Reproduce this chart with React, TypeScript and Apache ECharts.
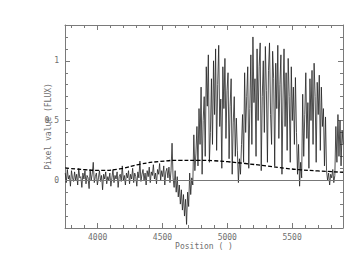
import React, { useEffect, useRef } from "react";
import * as echarts from "echarts";

// Spectrum sampling grid (start position and step of the pixel grid)
const positionStart = 3750;
const positionStep = 8;

// Flux values, one per pixel of the grid
const fluxValues = [
  0.06, -0.02, 0.09, 0.01, 0.04, -0.05, 0.08, 0.02, -0.01, 0.07,
  0.0, 0.05, -0.04, 0.1, 0.02, 0.03, -0.06, 0.06, 0.01, 0.08,
  -0.03, 0.04, 0.02, -0.07, 0.09, 0.0, 0.05, 0.15, -0.02, 0.03,
  0.06, -0.04, 0.02, 0.08, -0.01, 0.04, -0.08, 0.05, 0.01, 0.07,
  -0.03, 0.03, 0.0, 0.06, -0.05, 0.02, 0.09, -0.02, 0.04, 0.01,
  0.07, -0.06, 0.03, 0.05, -0.01, 0.12, 0.0, 0.04, -0.04, 0.06,
  0.02, 0.08, -0.03, 0.05, 0.01, 0.1, -0.02, 0.06, 0.03, -0.05,
  0.07, 0.02, 0.16, -0.01, 0.05, 0.09, 0.0, 0.06, -0.04, 0.08,
  0.03, 0.11, -0.02, 0.07, 0.04, 0.13, 0.01, 0.06, -0.03, 0.09,
  0.05, 0.14, 0.0, 0.08, 0.03, 0.12, -0.04, 0.07, 0.1, 0.02,
  0.11, -0.02, 0.08,
  0.31, 0.02, -0.06, 0.08, -0.1, 0.03, -0.14, -0.04, -0.2, -0.08,
  -0.25, -0.12, -0.3, -0.16, -0.37, -0.1, -0.22, 0.06, -0.12, 0.02,
  -0.04,
  0.38, 0.08, 0.22, 0.45, 0.12, 0.6, 0.3, 0.78, 0.05, 0.5,
  0.7, 0.2, 0.95, 0.62, 1.05, 0.15, 0.4, 0.85, 0.3, 1.0,
  0.55, 1.1, 0.25, 0.8, 1.13, 0.45, 0.68, 0.1, 0.95, 0.6,
  1.02, 0.35, 0.75, 0.9, 0.18, 0.62, 0.85, 0.05, 0.48, 0.7,
  0.2, 0.52,
  0.25, -0.02, 0.18, 0.05, 0.3,
  0.55, 0.15, 0.9, 0.4, 0.7, 0.95, 0.1, 0.6, 1.05, 0.3,
  1.2, 0.65, 0.85, 0.2, 1.1, 0.5, 0.95, 1.15, 0.08, 0.7,
  1.0, 0.4, 1.12, 0.75, 0.15, 0.92, 1.15, 0.55, 0.3, 1.08,
  0.85, 0.12, 0.98, 0.6, 1.13, 0.35, 0.8, 1.05, 0.05, 0.68,
  1.1, 0.45, 0.9, 0.25, 1.02, 0.7, 0.15, 0.95, 0.5, 0.78,
  0.3, 0.86, 0.4,
  0.05, 0.3, -0.05, 0.15, 0.02,
  0.72, 0.2, 0.55, 0.9, 0.35, 0.65, 0.1, 0.85, 0.5, 0.92,
  0.3, 0.98, 0.7, 0.15, 0.82, 0.55, 0.88, 0.25, 0.78, 0.45,
  0.6, 0.12, 0.53,
  0.08, 0.0, 0.06, -0.04, 0.05, 0.02, 0.09, -0.02, 0.04,
  0.45, 0.15, 0.55, 0.2, 0.5, 0.12, 0.42, 0.3,
];

// Continuum fit (dashed curve)
const continuumPositions = [
  3750, 3900, 4020, 4170, 4330, 4480, 4640, 4770, 4900, 5000, 5140, 5300,
  5450, 5560, 5700, 5893,
];
const continuumValues = [
  0.103, 0.088, 0.083, 0.095, 0.135, 0.157, 0.167, 0.167, 0.163, 0.155, 0.14,
  0.12, 0.1, 0.088, 0.078, 0.067,
];

// Axis ranges and ticks
const xMin = 3748;
const xMax = 5893;
const yMin = -0.4;
const yMax = 1.3;
const xMajorTicks = [4000, 4500, 5000, 5500];
const xMinorTicks = [
  3800, 3900, 4100, 4200, 4300, 4400, 4600, 4700, 4800, 4900, 5100, 5200,
  5300, 5400, 5600, 5700, 5800,
];
const yMajorTicks = [0, 0.5, 1];
const yMinorTicks = [-0.3, -0.2, -0.1, 0.1, 0.2, 0.3, 0.4, 0.6, 0.7, 0.8, 0.9, 1.1, 1.2];

const xTitle = "Position ( )";
const yTitle = "Pixel value (FLUX)";

const FRAME = "#7a7a7a";
const TEXT = "#6e6e6e";
const FONT = "DejaVu Sans Mono";

function axis(
  kind: "x" | "y",
  position: string,
  ticks: number[],
  tickLen: number,
  showLine: boolean,
  showLabels: boolean,
  extra: any = {}
) {
  return {
    type: "value",
    gridIndex: 0,
    position,
    min: kind === "x" ? xMin : yMin,
    max: kind === "x" ? xMax : yMax,
    axisLine: { show: showLine, onZero: false, lineStyle: { color: FRAME, width: 1 } },
    axisTick: {
      show: true,
      inside: true,
      length: tickLen,
      customValues: ticks,
      lineStyle: { color: FRAME, width: 1 },
    },
    axisLabel: showLabels
      ? {
          show: true,
          customValues: ticks,
          formatter: (v: number) => String(v),
          color: TEXT,
          fontFamily: FONT,
          fontSize: 8,
          margin: kind === "x" ? 5 : 6,
        }
      : { show: false },
    splitLine: { show: false },
    ...extra,
  };
}

export default function App() {
  const ref = useRef<HTMLDivElement>(null);

  useEffect(() => {
    if (!ref.current) return;
    const chart = echarts.init(ref.current, undefined, { renderer: "svg" });

    const spectrum = fluxValues.map((v, i) => [positionStart + positionStep * i, v]);
    const continuum = continuumPositions.map((p, i) => [p, continuumValues[i]]);

    chart.setOption({
      animation: false,
      backgroundColor: "#ffffff",
      grid: { left: 65, right: 11, top: 25, bottom: 45, containLabel: false },
      xAxis: [
        axis("x", "bottom", xMajorTicks, 5, true, true, {
          name: xTitle,
          nameLocation: "middle",
          nameGap: 14,
          nameMoveOverlap: false,
          nameTextStyle: { color: TEXT, fontFamily: FONT, fontSize: 8 },
        }),
        axis("x", "bottom", xMinorTicks, 3, false, false),
        axis("x", "top", xMajorTicks, 5, true, false),
        axis("x", "top", xMinorTicks, 3, false, false),
      ],
      yAxis: [
        axis("y", "left", yMajorTicks, 5, true, true, {
          name: yTitle,
          nameLocation: "middle",
          nameGap: 13,
          nameRotate: 90,
          nameMoveOverlap: false,
          nameTextStyle: { color: TEXT, fontFamily: FONT, fontSize: 8 },
        }),
        axis("y", "left", yMinorTicks, 3, false, false),
        axis("y", "right", yMajorTicks, 5, true, false),
        axis("y", "right", yMinorTicks, 3, false, false),
      ],
      series: [
        {
          type: "line",
          xAxisIndex: 0,
          yAxisIndex: 0,
          data: spectrum,
          showSymbol: false,
          symbol: "none",
          lineStyle: { color: "#222222", width: 0.8 },
          silent: true,
          markLine: {
            silent: true,
            symbol: "none",
            label: { show: false },
            lineStyle: { color: "#777777", width: 1, type: "solid" },
            data: [{ yAxis: 0 }],
          },
        },
        {
          type: "line",
          xAxisIndex: 0,
          yAxisIndex: 0,
          data: continuum,
          smooth: 0.5,
          showSymbol: false,
          symbol: "none",
          lineStyle: { color: "#000000", width: 1.3, type: [4, 2] },
          silent: true,
        },
      ],
    });

    return () => chart.dispose();
  }, []);

  return (
    <div
      ref={ref}
      style={{ position: "fixed", left: 0, top: 0, width: 354, height: 273 }}
    />
  );
}
